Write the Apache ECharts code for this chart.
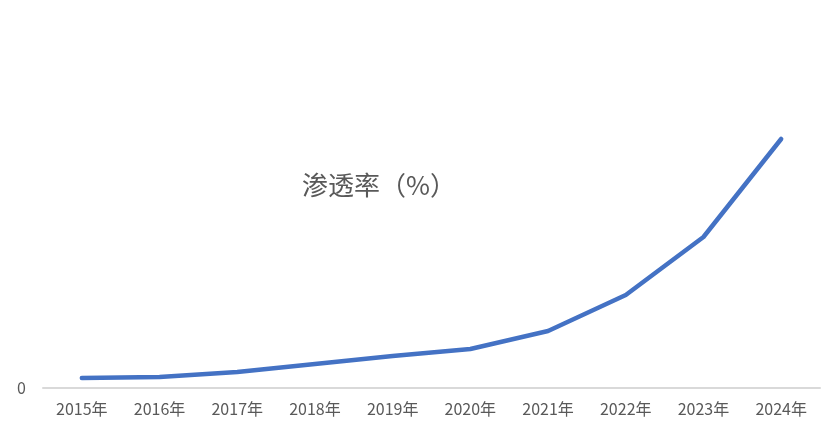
<!DOCTYPE html>
<html>
<head>
<meta charset="utf-8">
<style>
  html, body { margin: 0; padding: 0; background: #fff; }
  #chart { width: 831px; height: 431px; }
</style>
<script src="https://cdn.jsdelivr.net/npm/echarts@6/dist/echarts.min.js"></script>
</head>
<body>
<div id="chart"></div>
<script>
  // 年份 & 渗透率（%）
  const years = ["2015年", "2016年", "2017年", "2018年", "2019年", "2020年", "2021年", "2022年", "2023年", "2024年"];
  const penetration = [1.0, 1.1, 1.6, 2.4, 3.2, 3.9, 5.7, 9.3, 15.1, 24.9];
  const titleText = "渗透率（%）";

  const font = '"Noto Sans CJK SC", "Microsoft YaHei", sans-serif';
  const chart = echarts.init(document.getElementById("chart"));

  chart.setOption({
    animation: false,
    title: {
      text: titleText,
      left: 297,
      top: 167,
      textStyle: {
        fontFamily: font,
        fontSize: 26,
        fontWeight: "normal",
        color: "#595959",
      },
    },
    grid: {
      left: 43,
      right: 11,
      top: 38,
      bottom: 43,
    },
    xAxis: {
      type: "category",
      data: years,
      boundaryGap: true,
      axisLine: { lineStyle: { color: "#d9d9d9", width: 2 } },
      axisTick: { show: false },
      axisLabel: {
        margin: 13,
        fontFamily: font,
        fontSize: 16,
        color: "#595959",
      },
    },
    yAxis: {
      type: "value",
      min: 0,
      max: 35,
      interval: 35,
      axisLine: { show: false },
      axisTick: { show: false },
      splitLine: { show: false },
      axisLabel: {
        margin: 17,
        fontFamily: font,
        fontSize: 16,
        color: "#595959",
        formatter: (v) => (v === 0 ? "0" : ""),
      },
    },
    series: [
      {
        name: titleText,
        type: "line",
        data: penetration,
        symbol: "none",
        lineStyle: { color: "#4472c4", width: 4.5, cap: "round", join: "round" },
      },
    ],
  });
</script>
</body>
</html>
